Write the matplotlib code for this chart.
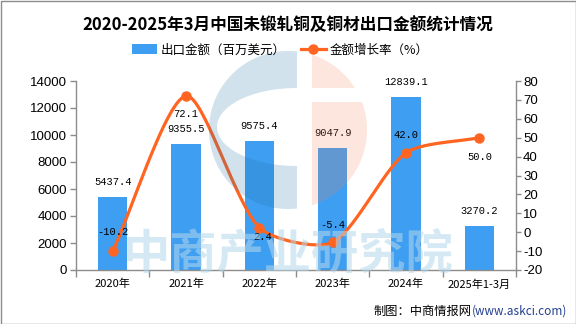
import numpy as np
import matplotlib
matplotlib.use("Agg")
import matplotlib.pyplot as plt
from matplotlib.patches import Polygon, Rectangle, Patch
from matplotlib.lines import Line2D
from matplotlib.transforms import Affine2D

plt.rcParams['font.family'] = ['Noto Sans CJK SC', 'DejaVu Sans']

# ---- data ----
categories = ["2020年", "2021年", "2022年", "2023年", "2024年", "2025年1-3月"]
export_value = [5437.4, 9355.5, 9575.4, 9047.9, 12839.1, 3270.2]   # 百万美元
growth_rate = [-10.2, 72.1, 2.4, -5.4, 42.0, 50.0]                 # %
left_ticks = [0, 2000, 4000, 6000, 8000, 10000, 12000, 14000]
right_ticks = [-20, -10, 0, 10, 20, 30, 40, 50, 60, 70, 80]

title = "2020-2025年3月中国未锻轧铜及铜材出口金额统计情况"
bar_name = "出口金额（百万美元）"
line_name = "金额增长率（%）"

# ---- style ----
BAR = "#3E9EF1"
LINE = "#FF6420"
AXIS = "#8C8C8C"
W, H = 576, 324
num_font = dict(family="Liberation Mono", size=7.5)
rate_offsets = [(0, 13.7), (0, -13), (2, -6.5), (0, 12.2), (0, 13), (0, -13.7)]

fig = plt.figure(figsize=(W / 100, H / 100), dpi=100)
# pixel transform (origin top-left) for decorations
pix = Affine2D().scale(1 / W, -1 / H).translate(0, 1) + fig.transFigure

ax = fig.add_axes([76 / W, 1 - 270 / H, 440 / W, 189 / H])
ax2 = ax.twinx()

x = np.arange(len(categories))
ax.bar(x, export_value, width=0.4, color=BAR, zorder=2)
ax.set_xlim(-0.5, len(categories) - 0.5)
ax.set_ylim(left_ticks[0], left_ticks[-1])
ax.set_yticks(left_ticks)
ax.set_yticklabels([str(v) for v in left_ticks], fontfamily="Liberation Sans", fontsize=9.5)

ax.set_xticks(np.arange(-0.5, len(categories), 1.0))
ax.set_xticklabels([])
ax.set_xticks(x, minor=True)
ax.set_xticklabels(categories, minor=True, fontsize=8)
ax.tick_params(axis="x", which="major", length=5, color=AXIS, width=1)
ax.tick_params(axis="x", which="minor", length=0, pad=6.5)
ax.tick_params(axis="y", length=4.5, color=AXIS, width=1, pad=2)

for s in ("top", "right"):
    ax.spines[s].set_visible(False)
for s in ("left", "bottom"):
    ax.spines[s].set_color(AXIS)
    ax.spines[s].set_linewidth(1)

ax2.set_ylim(right_ticks[0], right_ticks[-1])
ax2.set_yticks(right_ticks)
ax2.set_yticklabels([str(v) for v in right_ticks], fontfamily="Liberation Sans", fontsize=9.5)
ax2.tick_params(axis="y", length=3.6, color=AXIS, width=1, pad=1.5)
for s in ("top", "left", "bottom"):
    ax2.spines[s].set_visible(False)
ax2.spines["right"].set_color(AXIS)
ax2.spines["right"].set_linewidth(1)

# bar value labels
for xi, v in zip(x, export_value):
    ax.annotate(f"{v:.1f}", (xi, v), xytext=(0, 10.8), textcoords="offset points",
                ha="center", va="center", **num_font, zorder=6)

# smooth growth line: bezier through points, control points scaled by neighbouring
# segment lengths in display space
P = ax2.transData.transform(np.column_stack([x, growth_rate]))
n = len(P)
smooth = 0.25
cp_in, cp_out = [], []
for i in range(n):
    prev_p = P[i - 1] if i > 0 else P[i]
    next_p = P[i + 1] if i < n - 1 else P[i]
    v = (next_p - prev_p) * smooth
    lp = np.linalg.norm(P[i] - prev_p)
    ln = np.linalg.norm(next_p - P[i])
    tot = lp + ln
    cp_in.append(P[i] - v * (lp / tot))
    cp_out.append(P[i] + v * (ln / tot))
curve = []
t = np.linspace(0, 1, 60)[:, None]
for i in range(n - 1):
    b = ((1 - t) ** 3 * P[i] + 3 * (1 - t) ** 2 * t * cp_out[i]
         + 3 * (1 - t) * t ** 2 * cp_in[i + 1] + t ** 3 * P[i + 1])
    curve.append(b if i == 0 else b[1:])
curve = ax2.transData.inverted().transform(np.vstack(curve))
ax2.plot(curve[:, 0], curve[:, 1], color=LINE, lw=2.3, solid_capstyle="round", zorder=3)
ax2.plot(x, growth_rate, "o", color=LINE, ms=6.5, zorder=4)

for xi, v, off in zip(x, growth_rate, rate_offsets):
    ax2.annotate(f"{v:.1f}", (xi, v), xytext=off, textcoords="offset points",
                 ha="center", va="center", **num_font, zorder=6)

# title & legend
fig.text(288 / W, 1 - 25 / H, title, ha="center", va="center",
         fontsize=12, fontweight="bold")
handles = [Patch(facecolor=BAR, edgecolor="none"),
           Line2D([], [], color=LINE, lw=2.3, marker="o", ms=6.5)]
fig.legend(handles, [bar_name, line_name], loc="center",
           bbox_to_anchor=(280 / W, 1 - 50 / H), ncol=2, frameon=False,
           fontsize=9, handlelength=2.0, handleheight=0.8,
           handletextpad=0.3, columnspacing=1.2, borderaxespad=0)

# watermark logo
cx, cy, r = 288, 130, 79
bx, ox = 297, 312
ta = np.arccos((bx - cx) / r)
arc_t = np.linspace(ta, 2 * np.pi - ta, 120)
outer = np.column_stack([cx + r * np.cos(arc_t), cy + r * np.sin(arc_t)])
ecx, ecy, ea, eb = 297, 127, 80, 39
s = np.linspace(1.5 * np.pi, 0.5 * np.pi, 80)
inner = np.column_stack([ecx + ea * np.cos(s), ecy + eb * np.sin(s)])
blue_shape = np.vstack([outer, [[bx, ecy - eb]], inner])
fig.patches.append(Polygon(blue_shape, closed=True, transform=pix,
                           facecolor=(30 / 255, 110 / 255, 160 / 255), alpha=0.2,
                           edgecolor="none", zorder=5))
band_top, band_bot = 88, 102
to = np.arccos((ox - cx) / r)
t1 = np.arcsin((band_top - cy) / r)
t_top = np.linspace(-to, t1, 60)
top_piece = np.vstack([np.column_stack([cx + r * np.cos(t_top), cy + r * np.sin(t_top)]),
                       [[ox, band_top]]])
t2 = np.arcsin((band_bot - cy) / r)
t_bot = np.linspace(t2, to, 80)
bot_piece = np.vstack([np.column_stack([cx + r * np.cos(t_bot), cy + r * np.sin(t_bot)]),
                       [[ox, band_bot]]])
for piece in (top_piece, bot_piece):
    fig.patches.append(Polygon(piece, closed=True, transform=pix,
                               facecolor=(240 / 255, 130 / 255, 90 / 255), alpha=0.2,
                               edgecolor="none", zorder=5))

fig.text(288 / W, 1 - 254 / H, "中商产业研究院", ha="center", va="center",
         fontsize=34, fontweight="bold", color=(180 / 255, 215 / 255, 235 / 255),
         alpha=0.55, zorder=6)

# source note
url = fig.text(567 / W, 1 - 311 / H, "(www.askci.com)", ha="right", va="center",
               fontsize=8.5, color="#23408E")
renderer = fig.canvas.get_renderer()
bb = url.get_window_extent(renderer)
fig.text(bb.x0 / (W * fig.dpi / 100), 1 - 311 / H, "制图：中商情报网", ha="right",
         va="center", fontsize=8.8, color="black")

# outer frame
fig.patches.append(Rectangle((0.5, 0.5), W - 1, H - 1, transform=pix, fill=False,
                             edgecolor="#8C8C8C", lw=1, zorder=7))

fig.savefig("out.png", dpi=100)
